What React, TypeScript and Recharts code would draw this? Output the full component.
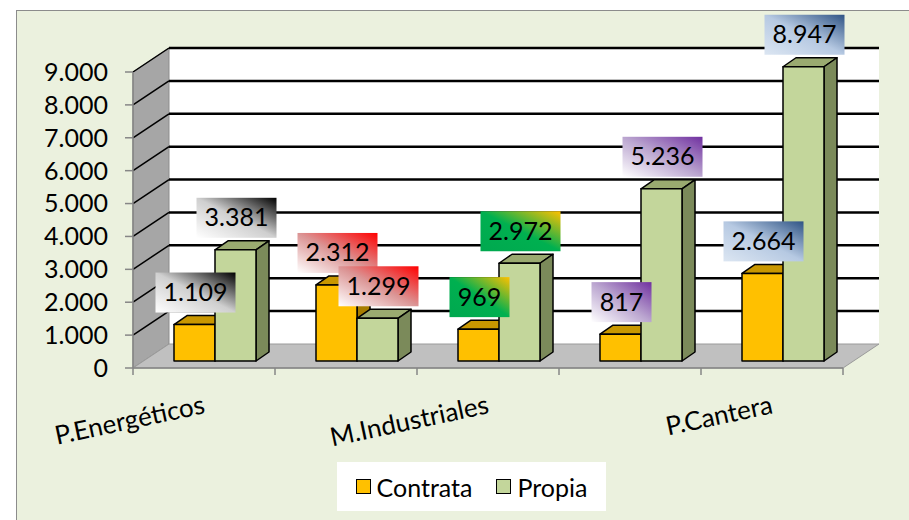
import { Bar, BarChart, CartesianGrid, LabelList, XAxis, YAxis } from "recharts";

const CATEGORIES = ["P.Energéticos", "", "M.Industriales", "", "P.Cantera"];
const CONTRATA = [1109, 2312, 969, 817, 2664];
const PROPIA = [3381, 1299, 2972, 5236, 8947];
const Y_TICKS = [0, 1000, 2000, 3000, 4000, 5000, 6000, 7000, 8000, 9000];

const data = CATEGORIES.map((name, i) => ({
  name,
  contrata: CONTRATA[i],
  propia: PROPIA[i],
}));

const FONT = "Lato, 'Open Sans', sans-serif";

// 3D look: bar front face offset, bar depth, wall depth
const OX = 11;
const OY = 7;
const DX = 13;
const DY = 9;
const WX = 36;
const WY = 24;

// label box gradients per category: [top-right, middle, bottom-left]
const TAG_FILLS = [
  ["#000000", "#cfcfcf", "#ffffff"],
  ["#ff0000", "#db9494", "#ffffff"],
  ["#ffc000", "#00b050", "#00a84f"],
  ["#7030a0", "#bba6d0", "#ffffff"],
  ["#2f5485", "#b6c9e2", "#dce6f2"],
];

const fmt = (v: number) => String(v).replace(/\B(?=(\d{3})+(?!\d))/g, ".");

const box3d = (front: string, top: string, side: string) => (props: any) => {
  const { x, y, width, height } = props;
  if (!height || height <= 0) return <g />;
  const fx = x + OX;
  const fy = y - OY;
  const w = width;
  const h = height;
  return (
    <g stroke="#000" strokeWidth={1.5} strokeLinejoin="round">
      <polygon
        points={`${fx},${fy} ${fx + DX},${fy - DY} ${fx + w + DX},${fy - DY} ${fx + w},${fy}`}
        fill={top}
      />
      <polygon
        points={`${fx + w},${fy} ${fx + w + DX},${fy - DY} ${fx + w + DX},${fy + h - DY} ${fx + w},${fy + h}`}
        fill={side}
      />
      <rect x={fx} y={fy} width={w} height={h} fill={front} />
    </g>
  );
};

const valueTag = (series: string) => (props: any) => {
  const vb = props.viewBox ?? props;
  const { index, value } = props;
  const text = fmt(Number(value));
  const cx = vb.x + OX + vb.width / 2 + 1;
  const frontTop = vb.y - OY;
  const digits = text.replace(".", "").length;
  const w = digits * 14 + (text.includes(".") ? 6 : 0) + 18;
  const h = 40;
  const bx = cx - w / 2;
  const by = frontTop - 12 - h;
  const [dark, mid, light] = TAG_FILLS[index];
  const id = `tag-${series}-${index}`;
  return (
    <g>
      <defs>
        <linearGradient id={id} x1="1" y1="0" x2="0" y2="1">
          <stop offset="0" stopColor={dark} />
          <stop offset="0.5" stopColor={mid} />
          <stop offset="1" stopColor={light} />
        </linearGradient>
      </defs>
      <rect x={bx} y={by} width={w} height={h} fill={`url(#${id})`} />
      <text
        x={cx}
        y={by + h / 2 + 8.5}
        textAnchor="middle"
        fontSize={25}
        fontFamily={FONT}
        fill="#000"
      >
        {text}
      </text>
    </g>
  );
};

// walls + gridlines of the 3D frame, built from the grid's own line positions
const gridLine = (props: any) => {
  const { x1, x2, y1, index } = props;
  const top = props.y;
  const height = props.height;
  const left = x1;
  const right = x2;
  const bottom = top + height;
  const isBase = Math.abs(y1 - bottom) < 0.5;
  return (
    <g key={`gl-${index}`}>
      {index === 0 && (
        <g>
          <rect
            x={left + WX}
            y={top - WY}
            width={right - left}
            height={height}
            fill="#ffffff"
          />
          <polygon
            points={`${left},${top} ${left + WX},${top - WY} ${left + WX},${bottom - WY} ${left},${bottom}`}
            fill="#a6a6a6"
            stroke="#8c8c8c"
            strokeWidth={1}
          />
          <polygon
            points={`${left},${bottom} ${left + WX},${bottom - WY} ${right + WX},${bottom - WY} ${right},${bottom}`}
            fill="#c0c0c0"
            stroke="#9a9a9a"
            strokeWidth={1}
          />
        </g>
      )}
      {!isBase && (
        <g>
          <line x1={left} y1={y1} x2={left + WX} y2={y1 - WY} stroke="#000" strokeWidth={1.5} />
          <line x1={left + WX} y1={y1 - WY} x2={right + WX} y2={y1 - WY} stroke="#000" strokeWidth={2.5} />
        </g>
      )}
    </g>
  );
};

const XTick = (props: any) => {
  const { x, y, payload } = props;
  const half = payload?.offset || 71;
  const axisY = y - 9;
  return (
    <g>
      <line x1={x - half} y1={axisY} x2={x - half} y2={axisY + 7} stroke="#868686" strokeWidth={1.5} />
      {payload.index === CATEGORIES.length - 1 && (
        <line x1={x + half} y1={axisY} x2={x + half} y2={axisY + 7} stroke="#868686" strokeWidth={1.5} />
      )}
      {payload.value && (
        <text
          transform={`translate(${x + 2},${y + 36}) rotate(-12)`}
          textAnchor="end"
          fontSize={26}
          fontFamily={FONT}
          fill="#000"
        >
          {payload.value}
        </text>
      )}
    </g>
  );
};

function Legend3D() {
  const item = (color: string, label: string) => (
    <div style={{ display: "flex", alignItems: "center", gap: 6 }}>
      <span
        style={{
          display: "inline-block",
          width: 13,
          height: 13,
          background: color,
          border: "1.5px solid #000",
        }}
      />
      <span>{label}</span>
    </div>
  );
  return (
    <div
      style={{
        position: "absolute",
        left: 337,
        top: 462,
        width: 269,
        height: 49,
        background: "#fff",
        display: "flex",
        alignItems: "center",
        justifyContent: "center",
        gap: 24,
        fontFamily: FONT,
        fontSize: 25,
        color: "#000",
      }}
    >
      {item("#ffc000", "Contrata")}
      {item("#c3d69b", "Propia")}
    </div>
  );
}

export default function App() {
  return (
    <div
      style={{
        position: "fixed",
        left: 0,
        top: 0,
        width: 909,
        height: 520,
        overflow: "hidden",
        background: "#ffffff",
      }}
    >
      <div
        style={{
          position: "absolute",
          left: 16,
          top: 10,
          width: 1000,
          height: 600,
          background: "#ebf1de",
          border: "1px solid #8c8c8c",
        }}
      />
      <div style={{ position: "absolute", left: 0, top: 0 }}>
        <BarChart
          width={909}
          height={520}
          data={data}
          margin={{ top: 72, right: 66, bottom: 52, left: 0 }}
          barGap={0}
          barSize={41}
        >
          <CartesianGrid vertical={false} horizontal={gridLine} />
          <XAxis
            dataKey="name"
            height={100}
            interval={0}
            tickSize={7}
            tickMargin={2}
            tickLine={false}
            axisLine={{ stroke: "#868686", strokeWidth: 1.5 }}
            tick={<XTick />}
          />
          <YAxis
            width={133}
            domain={[0, 9000]}
            ticks={Y_TICKS}
            interval={0}
            tickSize={8}
            tickMargin={17}
            tickFormatter={fmt}
            axisLine={{ stroke: "#868686", strokeWidth: 1.5 }}
            tickLine={{ stroke: "#868686", strokeWidth: 1.5 }}
            tick={{ fontSize: 25, fill: "#000", fontFamily: FONT }}
          />
          <Bar
            dataKey="contrata"
            name="Contrata"
            fill="#ffc000"
            shape={box3d("#ffc000", "#c99700", "#a67c00")}
            isAnimationActive={false}
          >
            <LabelList dataKey="contrata" content={valueTag("c")} />
          </Bar>
          <Bar
            dataKey="propia"
            name="Propia"
            fill="#c3d69b"
            shape={box3d("#c3d69b", "#9aaa70", "#7b8a5a")}
            isAnimationActive={false}
          >
            <LabelList dataKey="propia" content={valueTag("p")} />
          </Bar>
        </BarChart>
      </div>
      <Legend3D />
    </div>
  );
}
